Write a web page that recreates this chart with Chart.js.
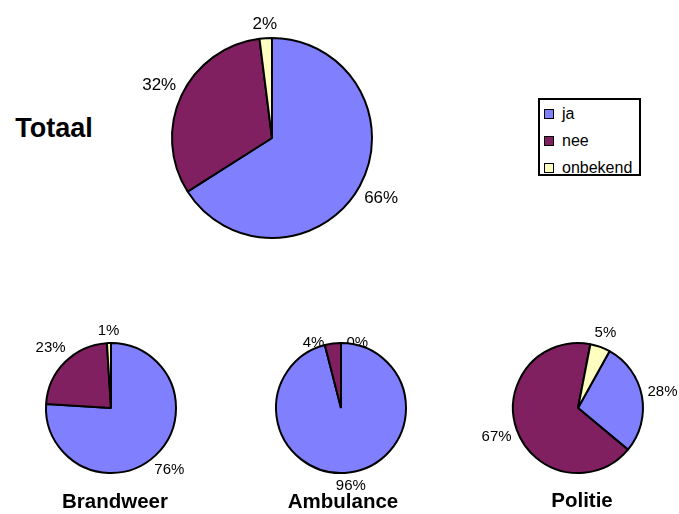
<!DOCTYPE html>
<html>
<head>
<meta charset="utf-8">
<script src="https://cdn.jsdelivr.net/npm/chart.js@4.4.1/dist/chart.umd.min.js"></script>
<style>
  body { margin: 0; background: #fff; font-family: "Liberation Sans", Arial, sans-serif; }
  #wrap { position: relative; width: 679px; height: 514px; overflow: hidden; }
  canvas { position: absolute; }
  .title { position: absolute; font-weight: bold; color: #000; white-space: nowrap; line-height: 1; transform: translate(-50%, -50%); }
  #legend { position: absolute; left: 538px; top: 98px; width: 99px; height: 74px; border: 2px solid #000; background: #fff; }
  .item { position: absolute; left: 4px; font-size: 16px; line-height: 1; height: 16px; display: flex; align-items: center; white-space: nowrap; }
  .item span.sw { width: 8px; height: 8px; border: 1.5px solid #000; margin-right: 8px; }
</style>
</head>
<body>
<div id="wrap">
  <canvas id="cTotaal" width="320" height="276" style="left:112px;top:0px;width:320px;height:276px"></canvas>
  <canvas id="cBrandweer" width="200" height="180" style="left:11px;top:318px;width:200px;height:180px"></canvas>
  <canvas id="cAmbulance" width="200" height="180" style="left:241px;top:318px;width:200px;height:180px"></canvas>
  <canvas id="cPolitie" width="200" height="180" style="left:478px;top:318px;width:200px;height:180px"></canvas>

  <div class="title" style="left:54px;top:128px;font-size:27px">Totaal</div>
  <div class="title" style="left:115px;top:501px;font-size:20.5px">Brandweer</div>
  <div class="title" style="left:343px;top:501px;font-size:20.5px">Ambulance</div>
  <div class="title" style="left:582px;top:500px;font-size:20.5px">Politie</div>

  <div id="legend"></div>
</div>
<script>
const categories = ['ja', 'nee', 'onbekend'];
const totaal = [66, 32, 2];
const brandweer = [76, 23, 1];
const ambulance = [96, 4, 0];
const politie = [28, 67, 5];
const sliceColors = ['#8080ff', '#802060', '#ffffc0'];

// percentage labels outside the pie, a small gap away from the edge
const pctLabels = {
  id: 'pctLabels',
  beforeDatasetsDraw(chart, args, opts) {
    const meta = chart.getDatasetMeta(0);
    const ctx = chart.ctx;
    const h = opts.size * 0.9;
    ctx.save();
    ctx.font = opts.size + 'px "Liberation Sans", Arial, sans-serif';
    ctx.fillStyle = '#000';
    ctx.textAlign = 'center';
    ctx.textBaseline = 'middle';
    const labels = meta.data.map((arc, i) => {
      const text = chart.data.datasets[0].data[i] + '%';
      const w = ctx.measureText(text).width;
      const mid = (arc.startAngle + arc.endAngle) / 2;
      const c = Math.cos(mid), s = Math.sin(mid);
      const d = arc.outerRadius + opts.gap + Math.abs(c) * w / 2 + Math.abs(s) * h / 2;
      return { text, w, arc, c, s, x: arc.x + c * d, y: arc.y + s * d };
    });
    // labels that collide: pull them onto the edge and spread sideways
    for (let i = 0; i < labels.length; i++) {
      for (let j = i + 1; j < labels.length; j++) {
        const a = labels[i], b = labels[j];
        if (Math.abs(a.y - b.y) < h && Math.abs(a.x - b.x) < (a.w + b.w) / 2) {
          [a, b].forEach(l => {
            const d = l.arc.outerRadius + 0.5;
            l.x = l.arc.x + l.c * d;
            l.y = l.arc.y + l.s * d;
          });
          const left = a.x <= b.x ? a : b, right = left === a ? b : a;
          const need = (a.w + b.w) / 2 + opts.spread - (right.x - left.x);
          left.x -= need / 2 + 1.5;
          right.x += need / 2 - 1.5;
        }
      }
    }
    labels.forEach(l => ctx.fillText(l.text, l.x, l.y));
    ctx.restore();
  }
};

function makePie(id, values, radius, rotation, labelSize, gap) {
  new Chart(document.getElementById(id), {
    type: 'pie',
    data: {
      labels: categories,
      datasets: [{
        data: values,
        backgroundColor: sliceColors,
        borderColor: '#000',
        borderWidth: 2,
        radius: radius
      }]
    },
    options: {
      responsive: false,
      animation: false,
      events: [],
      rotation: rotation,
      plugins: {
        legend: { display: false },
        tooltip: { enabled: false },
        pctLabels: { size: labelSize, gap: gap, spread: 22 }
      }
    },
    plugins: [pctLabels]
  });
}

makePie('cTotaal', totaal, 100, 0, 17, 6);
makePie('cBrandweer', brandweer, 65, 0, 15, 5);
makePie('cAmbulance', ambulance, 65, 0, 15, 5);
makePie('cPolitie', politie, 65, 29, 15, 5);

const legend = document.getElementById('legend');
categories.forEach((name, i) => {
  const row = document.createElement('div');
  row.className = 'item';
  row.style.top = (6 + i * 27) + 'px';
  row.innerHTML = '<span class="sw" style="background:' + sliceColors[i] + '"></span>' + name;
  legend.appendChild(row);
});
</script>
</body>
</html>
